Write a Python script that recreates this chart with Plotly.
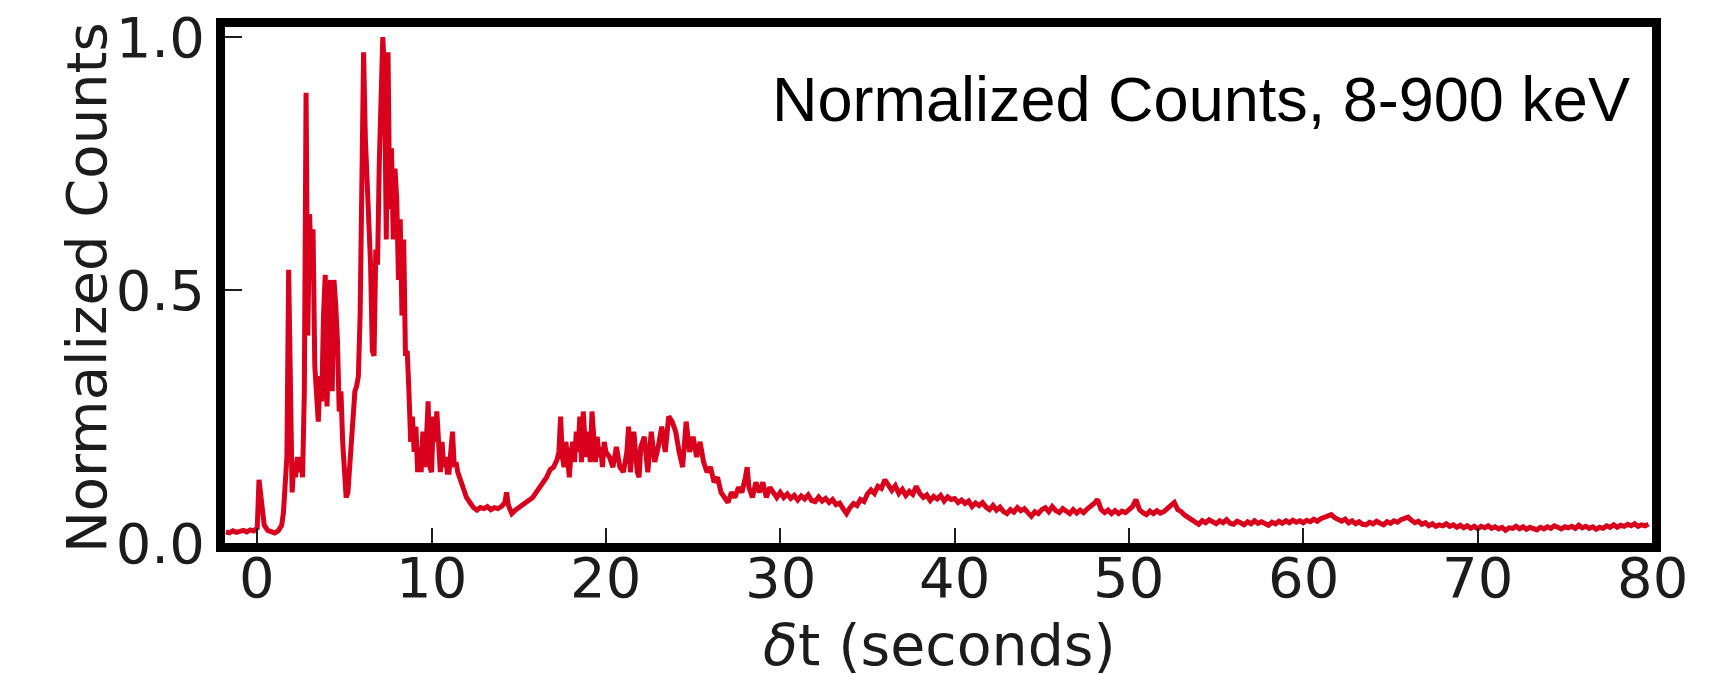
import plotly.graph_objects as go

# Light curve: time since trigger (s) and counts normalised to the peak bin
t_sec = [
    -1.8, -1.6, -1.4, -1.2, -1.0, -0.8, -0.6, -0.4, -0.2, 0.0,
    0.1, 0.2, 0.4, 0.6, 0.8, 1.0, 1.2, 1.4, 1.5, 1.6,
    1.7, 1.8, 1.9, 2.0, 2.1, 2.2, 2.3, 2.4, 2.5, 2.6,
    2.7, 2.8, 2.9, 3.0, 3.1, 3.2, 3.3, 3.4, 3.5, 3.6,
    3.7, 3.8, 3.9, 4.0, 4.1, 4.2, 4.3, 4.4, 4.5, 4.6,
    4.7, 4.8, 4.9, 5.0, 5.1, 5.2, 5.3, 5.4, 5.5, 5.6,
    5.7, 5.8, 5.9, 6.0, 6.1, 6.2, 6.3, 6.4, 6.5, 6.6,
    6.7, 6.8, 6.9, 7.0, 7.1, 7.2, 7.3, 7.4, 7.5, 7.6,
    7.7, 7.8, 7.9, 8.0, 8.1, 8.2, 8.3, 8.4, 8.5, 8.6,
    8.7, 8.8, 8.9, 9.0, 9.1, 9.2, 9.3, 9.4, 9.5, 9.6,
    9.7, 9.8, 9.9, 10.0, 10.1, 10.2, 10.3, 10.4, 10.5, 10.6,
    10.7, 10.8, 10.9, 11.0, 11.1, 11.2, 11.3, 11.4, 11.5, 11.6,
    11.7, 11.8, 11.9, 12.0, 12.2, 12.4, 12.6, 12.8, 13.0, 13.2,
    13.4, 13.6, 13.8, 14.0, 14.2, 14.3, 14.4, 14.6, 14.8, 15.0,
    15.2, 15.4, 15.6, 15.8, 16.0, 16.2, 16.4, 16.6, 16.8, 17.0,
    17.2, 17.3, 17.4, 17.5, 17.6, 17.7, 17.8, 17.9, 18.0, 18.1,
    18.2, 18.3, 18.4, 18.5, 18.6, 18.7, 18.8, 18.9, 19.0, 19.1,
    19.2, 19.3, 19.4, 19.5, 19.6, 19.7, 19.8, 19.9, 20.0, 20.2,
    20.4, 20.6, 20.8, 21.0, 21.2, 21.3, 21.4, 21.6, 21.8, 21.9,
    22.0, 22.2, 22.4, 22.6, 22.8, 23.0, 23.2, 23.4, 23.6, 23.8,
    24.0, 24.2, 24.4, 24.6, 24.8, 25.0, 25.2, 25.4, 25.6, 25.8,
    26.0, 26.2, 26.4, 26.6, 26.8, 27.0, 27.2, 27.4, 27.6, 27.8,
    28.0, 28.1, 28.2, 28.4, 28.6, 28.8, 29.0, 29.2, 29.4, 29.6,
    29.8,
    30.0, 30.2, 30.4, 30.6, 30.8, 31.0, 31.2, 31.4, 31.6, 31.8,
    32.0, 32.2, 32.4, 32.6, 32.8, 33.0, 33.2, 33.4, 33.6, 33.8,
    34.0, 34.2, 34.4, 34.6, 34.8, 35.0, 35.2, 35.4, 35.6, 35.8,
    36.0, 36.2, 36.4, 36.6, 36.8, 37.0, 37.2, 37.4, 37.6, 37.8,
    38.0, 38.2, 38.4, 38.6, 38.8, 39.0, 39.2, 39.4, 39.6, 39.8,
    40.0, 40.2, 40.4, 40.6, 40.8, 41.0, 41.2, 41.4, 41.6, 41.8,
    42.0, 42.2, 42.4, 42.6, 42.8, 43.0, 43.2, 43.4, 43.6, 43.8,
    44.0, 44.2, 44.4, 44.6, 44.8, 45.0, 45.2, 45.4, 45.6, 45.8,
    46.0, 46.2, 46.4, 46.6, 46.8, 47.0, 47.2, 47.4, 47.6, 47.8,
    48.0, 48.2, 48.4, 48.6, 48.8, 49.0, 49.2, 49.4, 49.6, 49.8,
    50.0, 50.2, 50.4, 50.6, 50.8, 51.0, 51.2, 51.4, 51.6, 51.8,
    52.0, 52.2, 52.4, 52.6, 52.8, 53.0, 53.2, 53.4, 53.6, 53.8,
    54.0, 54.2, 54.4, 54.6, 54.8, 55.0, 55.2, 55.4, 55.6, 55.8,
    56.0, 56.2, 56.4, 56.6, 56.8, 57.0, 57.2, 57.4, 57.6, 57.8,
    58.0, 58.2, 58.4, 58.6, 58.8, 59.0, 59.2, 59.4, 59.6, 59.8,
    60.0, 60.2, 60.4, 60.6, 60.8, 61.0, 61.2, 61.4, 61.6, 61.8,
    62.0, 62.2, 62.4, 62.6, 62.8, 63.0, 63.2, 63.4, 63.6, 63.8,
    64.0, 64.2, 64.4, 64.6, 64.8, 65.0, 65.2, 65.4, 65.6, 65.8,
    66.0, 66.2, 66.4, 66.6, 66.8, 67.0, 67.2, 67.4, 67.6, 67.8,
    68.0, 68.2, 68.4, 68.6, 68.8, 69.0, 69.2, 69.4, 69.6, 69.8,
    70.0, 70.2, 70.4, 70.6, 70.8, 71.0, 71.2, 71.4, 71.6, 71.8,
    72.0, 72.2, 72.4, 72.6, 72.8, 73.0, 73.2, 73.4, 73.6, 73.8,
    74.0, 74.2, 74.4, 74.6, 74.8, 75.0, 75.2, 75.4, 75.6, 75.8,
    76.0, 76.2, 76.4, 76.6, 76.8, 77.0, 77.2, 77.4, 77.6, 77.8,
    78.0, 78.2, 78.4, 78.6, 78.8, 79.0, 79.2, 79.4, 79.6, 79.8,
]

norm_counts = [
    0.022, 0.020, 0.024, 0.021, 0.023, 0.025, 0.022, 0.026, 0.024, 0.030,
    0.125, 0.090, 0.035, 0.025, 0.022, 0.020, 0.024, 0.035, 0.060, 0.110,
    0.170, 0.540, 0.200, 0.100, 0.160, 0.130, 0.170, 0.140, 0.170, 0.130,
    0.300, 0.890, 0.410, 0.650, 0.550, 0.620, 0.350, 0.300, 0.240, 0.330,
    0.280, 0.450, 0.530, 0.270, 0.400, 0.520, 0.300, 0.520, 0.470, 0.400,
    0.260, 0.300, 0.200, 0.130, 0.090, 0.100, 0.150, 0.200, 0.230, 0.300,
    0.310, 0.330, 0.450, 0.700, 0.970, 0.800, 0.720, 0.620, 0.550, 0.380,
    0.370, 0.580, 0.550, 0.750, 0.920, 1.000, 0.930, 0.600, 0.970, 0.660,
    0.780, 0.600, 0.740, 0.680, 0.520, 0.640, 0.450, 0.600, 0.370, 0.380,
    0.300, 0.200, 0.250, 0.180, 0.230, 0.140, 0.190, 0.140, 0.220, 0.150,
    0.200, 0.280, 0.150, 0.140, 0.250, 0.200, 0.260, 0.180, 0.140, 0.200,
    0.150, 0.170, 0.140, 0.140, 0.190, 0.220, 0.150, 0.160, 0.140, 0.130,
    0.120, 0.110, 0.100, 0.090, 0.080, 0.070, 0.065, 0.070, 0.068, 0.072,
    0.066, 0.070, 0.068, 0.072, 0.080, 0.100, 0.075, 0.058, 0.065, 0.070,
    0.075, 0.080, 0.085, 0.090, 0.100, 0.110, 0.120, 0.130, 0.145, 0.150,
    0.165, 0.180, 0.250, 0.170, 0.150, 0.200, 0.170, 0.130, 0.180, 0.200,
    0.160, 0.220, 0.180, 0.250, 0.160, 0.260, 0.200, 0.170, 0.220, 0.160,
    0.260, 0.190, 0.160, 0.210, 0.170, 0.190, 0.150, 0.200, 0.180, 0.170,
    0.150, 0.190, 0.150, 0.140, 0.180, 0.230, 0.140, 0.220, 0.140, 0.130,
    0.190, 0.210, 0.140, 0.220, 0.160, 0.190, 0.230, 0.180, 0.250, 0.240,
    0.220, 0.180, 0.150, 0.240, 0.180, 0.210, 0.170, 0.200, 0.160, 0.140,
    0.150, 0.120, 0.130, 0.100, 0.090, 0.080, 0.100, 0.090, 0.110, 0.100,
    0.130, 0.150, 0.110, 0.090, 0.120, 0.100, 0.120, 0.090, 0.110, 0.100,
    0.090,
    0.100, 0.090, 0.097, 0.088, 0.094, 0.085, 0.093, 0.087, 0.095, 0.084,
    0.082, 0.091, 0.083, 0.088, 0.080, 0.086, 0.076, 0.079, 0.068, 0.058,
    0.070, 0.078, 0.074, 0.086, 0.082, 0.097, 0.105, 0.098, 0.112, 0.108,
    0.125, 0.112, 0.104, 0.113, 0.098, 0.106, 0.094, 0.102, 0.096, 0.112,
    0.098, 0.090, 0.095, 0.084, 0.092, 0.087, 0.094, 0.083, 0.091, 0.086,
    0.088, 0.080, 0.085, 0.078, 0.083, 0.072, 0.079, 0.074, 0.080, 0.071,
    0.066, 0.074, 0.065, 0.071, 0.062, 0.058, 0.066, 0.061, 0.070, 0.064,
    0.068, 0.060, 0.053, 0.062, 0.058, 0.066, 0.070, 0.062, 0.072, 0.064,
    0.060, 0.068, 0.063, 0.058, 0.066, 0.059, 0.065, 0.060, 0.067, 0.072,
    0.078, 0.086, 0.066, 0.060, 0.065, 0.058, 0.064, 0.058, 0.063, 0.060,
    0.066, 0.072, 0.086, 0.066, 0.060, 0.056, 0.063, 0.058, 0.064, 0.059,
    0.062, 0.067, 0.072, 0.080, 0.066, 0.062, 0.055, 0.050, 0.044, 0.040,
    0.037, 0.044, 0.040, 0.046, 0.041, 0.038, 0.044, 0.040, 0.046, 0.039,
    0.037, 0.043, 0.040, 0.036, 0.042, 0.038, 0.044, 0.039, 0.042, 0.037,
    0.035, 0.041, 0.038, 0.043, 0.039, 0.044, 0.040, 0.045, 0.041, 0.044,
    0.040, 0.045, 0.042, 0.047, 0.043, 0.048, 0.050, 0.054, 0.056, 0.050,
    0.046, 0.043, 0.047, 0.040, 0.044, 0.038, 0.042, 0.037, 0.036, 0.041,
    0.038, 0.043, 0.039, 0.036, 0.042, 0.039, 0.044, 0.041, 0.046, 0.048,
    0.051, 0.045, 0.040, 0.043, 0.037, 0.040, 0.034, 0.038, 0.033, 0.036,
    0.034, 0.038, 0.033, 0.036, 0.031, 0.035, 0.030, 0.034, 0.029, 0.033,
    0.028, 0.033, 0.030, 0.034, 0.029, 0.032, 0.028, 0.031, 0.025, 0.030,
    0.029, 0.033, 0.028, 0.032, 0.027, 0.031, 0.029, 0.026, 0.031, 0.028,
    0.032, 0.029, 0.034, 0.030, 0.028, 0.032, 0.030, 0.033, 0.029, 0.035,
    0.030, 0.033, 0.029, 0.032, 0.027, 0.031, 0.029, 0.034, 0.031, 0.036,
    0.031, 0.035, 0.033, 0.037, 0.034, 0.038, 0.033, 0.036, 0.034, 0.037,
]

x_ticks = [0, 10, 20, 30, 40, 50, 60, 70, 80]
x_tick_text = ["0", "10", "20", "30", "40", "50", "60", "70", "80"]
y_ticks = [0.0, 0.5, 1.0]
y_tick_text = ["0.0", "0.5", "1.0"]

panel_label = "Normalized Counts, 8-900 keV"
x_title = "<i>δ</i>t (seconds)"
y_title = "Normalized Counts"

ink = "#1c1c1c"
tick_font = dict(family="DejaVu Sans", size=56, color=ink)
title_font = dict(family="DejaVu Sans", size=57, color=ink)

fig = go.Figure()
fig.add_trace(go.Scatter(
    x=t_sec, y=norm_counts, mode="lines",
    line=dict(color="#d8001c", width=5),
    showlegend=False, hoverinfo="x+y",
))

# x tick labels sit tight under the thick frame, so they are placed as
# annotations at the tick values rather than with the axis' own offset
x_label_notes = [
    dict(text=txt, x=val, xref="x", y=-0.066, yref="paper",
         xanchor="center", yanchor="middle", showarrow=False, font=tick_font)
    for val, txt in zip(x_ticks, x_tick_text)
]

fig.update_layout(
    width=1736, height=675,
    margin=dict(l=225, r=84, t=27, b=132, autoexpand=False),
    paper_bgcolor="white", plot_bgcolor="white",
    font=dict(family="DejaVu Sans", color=ink),
    xaxis=dict(
        range=[-1.85, 80.0], tickvals=x_ticks, showticklabels=False,
        ticks="inside", ticklen=15, tickwidth=2, tickcolor=ink,
        showline=True, linecolor="black", linewidth=9, mirror=True,
        showgrid=False, zeroline=False, automargin=False,
    ),
    yaxis=dict(
        range=[0.0, 1.02], tickvals=y_ticks, ticktext=y_tick_text,
        ticks="inside", ticklen=17, tickwidth=2, tickcolor=ink,
        showline=True, linecolor="black", linewidth=9, mirror=True,
        showgrid=False, zeroline=False, tickfont=tick_font,
        automargin=False,
    ),
    annotations=x_label_notes + [
        dict(text=panel_label, xref="paper", yref="paper",
             x=0.986, y=0.8595, xanchor="right", yanchor="middle",
             showarrow=False,
             font=dict(family="Liberation Sans", size=63, color="black")),
        dict(text=x_title, xref="paper", yref="paper",
             x=0.501, y=-0.1977, xanchor="center", yanchor="middle",
             showarrow=False, font=title_font),
        dict(text=y_title, xref="paper", yref="paper",
             x=-0.0974, y=0.494, xanchor="center", yanchor="middle",
             textangle=-90, showarrow=False, font=tick_font),
    ],
)

fig.write_html("out.html")
